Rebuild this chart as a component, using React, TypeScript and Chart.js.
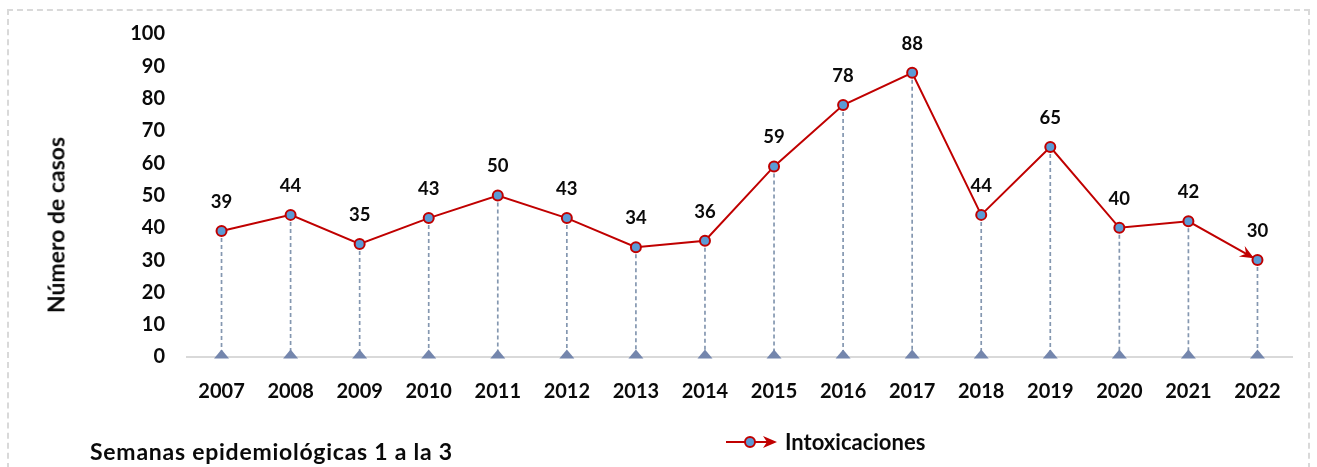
import { useEffect, useRef } from "react";
import { Chart, registerables } from "chart.js";

Chart.register(...registerables);

const years = ["2007", "2008", "2009", "2010", "2011", "2012", "2013", "2014", "2015", "2016", "2017", "2018", "2019", "2020", "2021", "2022"];
const cases = [39, 44, 35, 43, 50, 43, 34, 36, 59, 78, 88, 44, 65, 40, 42, 30];
const yMin = 0;
const yMax = 100;
const yStep = 10;
const seriesLabel = "Intoxicaciones";
const yTitle = "Número de casos";
const footnote = "Semanas epidemiológicas 1 a la 3";

const FONT = "Lato";
const WEIGHT = 700;
const RED = "#C00000";
const BLUE = "#5B9BD5";
const DROP = "#8497B0";
const TRI = "#7486AD";
const INK = "#0A0A0A";

const extrasPlugin = {
  id: "extras",
  beforeDatasetsDraw(chart: any) {
    const ctx = chart.ctx;
    const meta = chart.getDatasetMeta(0);
    const y0 = chart.scales.y.getPixelForValue(0);
    const pts = meta.data;
    ctx.save();
    ctx.strokeStyle = DROP;
    ctx.lineWidth = 1.7;
    ctx.setLineDash([4, 3]);
    pts.forEach((p: any) => {
      ctx.beginPath();
      ctx.moveTo(p.x, p.y);
      ctx.lineTo(p.x, y0);
      ctx.stroke();
    });
    ctx.setLineDash([]);
    ctx.fillStyle = TRI;
    pts.forEach((p: any) => {
      ctx.beginPath();
      ctx.moveTo(p.x - 7.5, y0 + 1.5);
      ctx.lineTo(p.x + 7.5, y0 + 1.5);
      ctx.lineTo(p.x, y0 - 7.5);
      ctx.closePath();
      ctx.fill();
    });
    if (pts.length > 1) {
      const a = pts[pts.length - 2];
      const b = pts[pts.length - 1];
      const ang = Math.atan2(b.y - a.y, b.x - a.x);
      const tipX = b.x - Math.cos(ang) * 4;
      const tipY = b.y - Math.sin(ang) * 4;
      const len = 14;
      const half = 6;
      const bx = tipX - Math.cos(ang) * len;
      const by = tipY - Math.sin(ang) * len;
      const nx = -Math.sin(ang);
      const ny = Math.cos(ang);
      const ix = tipX - Math.cos(ang) * len * 0.65;
      const iy = tipY - Math.sin(ang) * len * 0.65;
      ctx.fillStyle = RED;
      ctx.beginPath();
      ctx.moveTo(tipX, tipY);
      ctx.lineTo(bx + nx * half, by + ny * half);
      ctx.lineTo(ix, iy);
      ctx.lineTo(bx - nx * half, by - ny * half);
      ctx.closePath();
      ctx.fill();
    }
    ctx.restore();
  },
  afterDatasetsDraw(chart: any) {
    const ctx = chart.ctx;
    const meta = chart.getDatasetMeta(0);
    const data = chart.data.datasets[0].data;
    ctx.save();
    ctx.font = `${WEIGHT} 18.5px ${FONT}`;
    ctx.fillStyle = INK;
    ctx.textAlign = "center";
    ctx.textBaseline = "middle";
    meta.data.forEach((p: any, i: number) => {
      ctx.fillText(String(data[i]), p.x, p.y - 29);
    });
    ctx.restore();
  },
};

export default function App() {
  const canvasRef = useRef<HTMLCanvasElement | null>(null);

  useEffect(() => {
    document.body.style.margin = "0";
    const canvas = canvasRef.current;
    if (!canvas) return;
    const chart = new Chart(canvas, {
      type: "line",
      data: {
        labels: years,
        datasets: [
          {
            label: seriesLabel,
            data: cases,
            borderColor: RED,
            borderWidth: 2,
            backgroundColor: BLUE,
            pointBackgroundColor: BLUE,
            pointBorderColor: RED,
            pointBorderWidth: 2,
            pointRadius: 5,
            tension: 0,
            fill: false,
          },
        ],
      },
      options: {
        animation: false,
        responsive: false,
        maintainAspectRatio: false,
        layout: { padding: { left: 0, right: 25, top: 33, bottom: 60 } },
        plugins: {
          legend: { display: false },
          tooltip: { enabled: false },
          title: { display: false },
        },
        scales: {
          x: {
            type: "category",
            offset: true,
            grid: { display: false, drawTicks: false },
            border: { display: true, color: "#D9D9D9", width: 2 },
            ticks: {
              color: INK,
              font: { family: FONT, size: 20, weight: WEIGHT as any },
              padding: 23,
              maxRotation: 0,
              autoSkip: false,
            },
            afterFit: (s: any) => {
              s.height = 50;
            },
          },
          y: {
            min: yMin,
            max: yMax,
            grid: { display: false, drawTicks: false },
            border: { display: false },
            ticks: {
              stepSize: yStep,
              color: INK,
              font: { family: FONT, size: 20, weight: WEIGHT as any },
              padding: 22,
            },
            afterFit: (s: any) => {
              s.width = 187;
            },
          },
        },
      },
      plugins: [extrasPlugin],
    });
    return () => chart.destroy();
  }, []);

  const textStyle = {
    position: "absolute" as const,
    fontFamily: FONT,
    fontWeight: WEIGHT,
    color: INK,
    whiteSpace: "nowrap" as const,
    lineHeight: 1,
  };

  return (
    <div style={{ position: "relative", width: 1317, height: 467, overflow: "hidden", background: "#fff" }}>
      <div
        style={{
          position: "absolute",
          left: 7,
          top: 9,
          width: 1303,
          height: 470,
          border: "2px dashed #D9D9D9",
          boxSizing: "border-box",
        }}
      />
      <canvas ref={canvasRef} width={1317} height={467} style={{ position: "absolute", left: 0, top: 0 }} />
      <div
        style={{
          ...textStyle,
          fontSize: 23,
          left: 56,
          top: 225,
          transform: "translate(-50%, -50%) rotate(-90deg)",
        }}
      >
        {yTitle}
      </div>
      <div style={{ ...textStyle, fontSize: 23, letterSpacing: 0.75, left: 90, top: 451, transform: "translateY(-50%)" }}>{footnote}</div>
      <svg width={54} height={16} style={{ position: "absolute", left: 725, top: 434 }}>
        <line x1={1} y1={8} x2={44} y2={8} stroke={RED} strokeWidth={2} />
        <path d="M52 8 L38 2 L42 8 L38 14 Z" fill={RED} />
        <circle cx={25} cy={8} r={5} fill={BLUE} stroke={RED} strokeWidth={2} />
      </svg>
      <div style={{ ...textStyle, fontSize: 22, left: 785, top: 442, transform: "translateY(-50%)" }}>{seriesLabel}</div>
    </div>
  );
}
